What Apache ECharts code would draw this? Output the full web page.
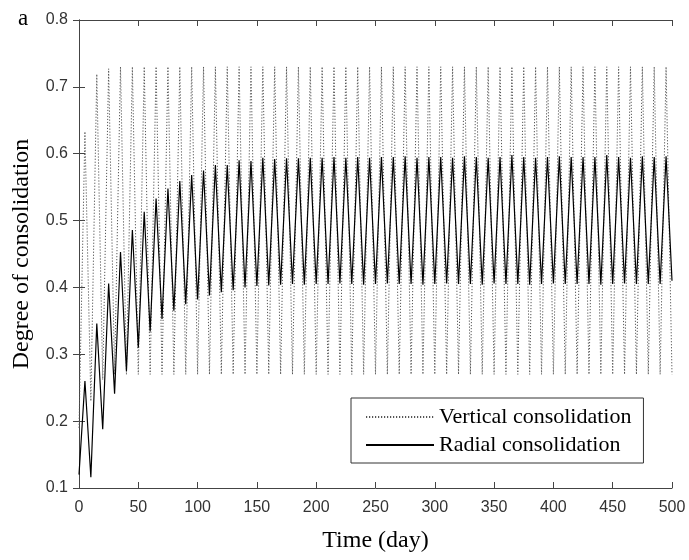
<!DOCTYPE html>
<html>
<head>
<meta charset="utf-8">
<script src="https://cdn.jsdelivr.net/npm/echarts@6/dist/echarts.min.js"></script>
<style>html,body{margin:0;padding:0;background:#fff}#c{width:689px;height:560px}</style>
</head>
<body>
<div id="c"></div>
<script>
// Half-cycle times: troughs at 0,10,20,...,500 ; peaks at 5,15,...,495 (days)
const halfCycleDays = 5;
const xTicks = [0, 50, 100, 150, 200, 250, 300, 350, 400, 450, 500];
const yTicks = [0.1, 0.2, 0.3, 0.4, 0.5, 0.6, 0.7, 0.8];

const verticalTroughs = [0.190,0.230,0.262,0.270,0.270,0.270,0.270,0.270,0.270,0.270,
  0.270,0.270,0.270,0.270,0.270,0.270,0.270,0.270,0.270,0.270,
  0.270,0.270,0.270,0.270,0.270,0.270,0.270,0.270,0.270,0.270,
  0.270,0.270,0.270,0.270,0.270,0.270,0.270,0.270,0.270,0.270,
  0.270,0.270,0.270,0.270,0.270,0.270,0.270,0.270,0.270,0.270,0.270];
const verticalPeaks = [0.633,0.719,0.727,0.730,0.730,0.730,0.730,0.730,0.730,0.730,
  0.730,0.730,0.730,0.730,0.730,0.730,0.730,0.730,0.730,0.730,
  0.730,0.730,0.730,0.730,0.730,0.730,0.730,0.730,0.730,0.730,
  0.730,0.730,0.730,0.730,0.730,0.730,0.730,0.730,0.730,0.730,
  0.730,0.730,0.730,0.730,0.730,0.730,0.730,0.730,0.730,0.730];

const radialTroughs = [0.120,0.116,0.188,0.241,0.275,0.310,0.334,0.353,0.365,0.375,
  0.382,0.388,0.393,0.396,0.400,0.402,0.403,0.404,0.405,0.404,
  0.405,0.405,0.406,0.405,0.404,0.405,0.406,0.405,0.405,0.404,
  0.405,0.406,0.405,0.405,0.404,0.406,0.405,0.405,0.404,0.405,
  0.406,0.405,0.405,0.405,0.404,0.405,0.406,0.405,0.405,0.405,0.410];
const radialPeaks = [0.260,0.346,0.406,0.453,0.486,0.513,0.533,0.548,0.559,0.568,
  0.575,0.583,0.583,0.590,0.589,0.594,0.592,0.593,0.593,0.594,
  0.594,0.595,0.594,0.595,0.594,0.595,0.595,0.596,0.594,0.595,
  0.595,0.594,0.596,0.595,0.594,0.595,0.598,0.595,0.594,0.595,
  0.596,0.595,0.595,0.595,0.598,0.595,0.594,0.596,0.595,0.596];

function zigzag(troughs, peaks) {
  const out = [];
  for (let i = 0; i < troughs.length; i++) {
    out.push([2 * i * halfCycleDays, troughs[i]]);
    if (i < peaks.length) out.push([(2 * i + 1) * halfCycleDays, peaks[i]]);
  }
  return out;
}

const chart = echarts.init(document.getElementById('c'), null, {renderer: 'canvas'});
const axisColor = '#444';
const serif = 'Liberation Serif, Times New Roman, serif';
const labelFont = {fontFamily: 'Liberation Sans, Arial, sans-serif', fontSize: 16, color: '#333'};
chart.setOption({
  animation: false,
  backgroundColor: '#fff',
  title: {text: 'a', left: 13, top: 2, textStyle: {fontFamily: serif, fontSize: 23, fontWeight: 'normal', color: '#000'}},
  grid: {left: 79, top: 20, right: 17, bottom: 72, containLabel: false},
  legend: {
    orient: 'vertical', left: 351, top: 398,
    padding: [8, 12, 7, 14], itemWidth: 68, itemHeight: 14, itemGap: 6,
    borderColor: '#333', borderWidth: 1, backgroundColor: '#fff',
    itemStyle: {opacity: 0},
    textStyle: {fontFamily: serif, fontSize: 22, lineHeight: 22, color: '#000'},
    data: ['Vertical consolidation', 'Radial consolidation']
  },
  xAxis: [{
    type: 'value', min: xTicks[0], max: xTicks[xTicks.length - 1], interval: 50,
    name: 'Time (day)', nameLocation: 'middle', nameGap: 41,
    nameTextStyle: {fontFamily: serif, fontSize: 24, color: '#000'},
    axisLine: {lineStyle: {color: axisColor, width: 1}},
    axisTick: {inside: true, length: 6, lineStyle: {color: axisColor}},
    axisLabel: Object.assign({margin: 12}, labelFont),
    splitLine: {show: false}
  }, {
    type: 'value', position: 'top', min: 0, max: 500, interval: 50,
    axisLine: {show: true, lineStyle: {color: axisColor, width: 1}},
    axisTick: {inside: true, length: 6, lineStyle: {color: axisColor}},
    axisLabel: {show: false}, splitLine: {show: false}
  }],
  yAxis: [{
    type: 'value', min: yTicks[0], max: yTicks[yTicks.length - 1], interval: 0.1,
    name: 'Degree of consolidation', nameLocation: 'middle', nameGap: 45,
    nameTextStyle: {fontFamily: serif, fontSize: 24, color: '#000'},
    axisLine: {show: true, lineStyle: {color: axisColor, width: 1}},
    axisTick: {show: true, inside: true, length: 6, lineStyle: {color: axisColor}},
    axisLabel: Object.assign({margin: 11, formatter: v => v.toFixed(1)}, labelFont),
    splitLine: {show: false}
  }, {
    type: 'value', position: 'right', min: 0.1, max: 0.8, interval: 0.1,
    axisLine: {show: true, lineStyle: {color: axisColor, width: 1}},
    axisTick: {show: true, inside: true, length: 6, lineStyle: {color: axisColor}},
    axisLabel: {show: false}, splitLine: {show: false}
  }],
  series: [{
    name: 'Vertical consolidation', type: 'line', symbol: 'none',
    data: zigzag(verticalTroughs, verticalPeaks),
    lineStyle: {type: [1.2, 1.8], color: '#555', width: 1}, itemStyle: {color: '#555', opacity: 0}, z: 2
  }, {
    name: 'Radial consolidation', type: 'line', symbol: 'none',
    data: zigzag(radialTroughs, radialPeaks),
    lineStyle: {color: '#000', width: 1.2}, itemStyle: {color: '#000', opacity: 0}, z: 3
  }]
});
</script>
</body>
</html>
